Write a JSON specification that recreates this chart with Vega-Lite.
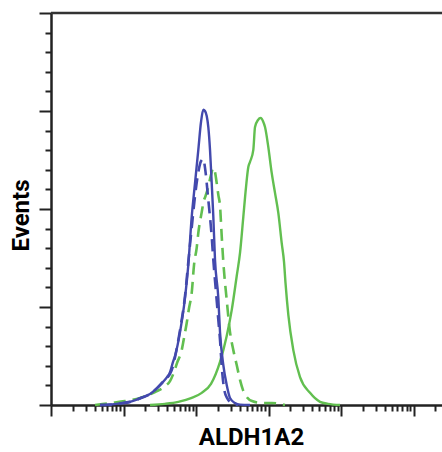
{
  "$schema": "https://vega.github.io/schema/vega-lite/v6.json",
  "autosize": "none",
  "padding": {"left": 51, "top": 13, "right": 0, "bottom": 47},
  "width": 391,
  "height": 392,
  "background": "white",
  "view": {"stroke": null},
  "datasets": {
    "curves": [
      {"s": "GS", "x": 23.2, "y": 0}, {"s": "GS", "x": 37.36, "y": 0.3}, {"s": "GS", "x": 57.0, "y": 0.8}, {"s": "GS", "x": 87.22, "y": 1.8}, {"s": "GS", "x": 119.9, "y": 3.1}, {"s": "GS", "x": 161.0, "y": 5.4}, {"s": "GS", "x": 214.3, "y": 11.0}, {"s": "GS", "x": 265.1, "y": 17.6}, {"s": "GS", "x": 310.8, "y": 24.2}, {"s": "GS", "x": 364.3, "y": 32.9}, {"s": "GS", "x": 404.5, "y": 38.8}, {"s": "GS", "x": 449.3, "y": 48.0}, {"s": "GS", "x": 489.5, "y": 55.6}, {"s": "GS", "x": 526.6, "y": 60.7}, {"s": "GS", "x": 555.7, "y": 62.0}, {"s": "GS", "x": 617.1, "y": 65.1}, {"s": "GS", "x": 651.4, "y": 70.9}, {"s": "GS", "x": 716.5, "y": 72.7}, {"s": "GS", "x": 780.6, "y": 73.2}, {"s": "GS", "x": 839.8, "y": 72.4}, {"s": "GS", "x": 894.8, "y": 70.9}, {"s": "GS", "x": 993.6, "y": 65.8}, {"s": "GS", "x": 1107, "y": 59.2}, {"s": "GS", "x": 1229, "y": 54.1}, {"s": "GS", "x": 1365, "y": 49.0}, {"s": "GS", "x": 1521, "y": 41.3}, {"s": "GS", "x": 1636, "y": 36.5}, {"s": "GS", "x": 1716, "y": 31.1}, {"s": "GS", "x": 1876, "y": 23.0}, {"s": "GS", "x": 2198, "y": 14.0}, {"s": "GS", "x": 2720, "y": 7.1}, {"s": "GS", "x": 3736, "y": 3.1}, {"s": "GS", "x": 5132, "y": 0.8}, {"s": "GS", "x": 6618, "y": 0.3}, {"s": "GS", "x": 9688, "y": 0},

      {"s": "GD", "x": 4.045, "y": 0}, {"s": "GD", "x": 6.514, "y": 0.5}, {"s": "GD", "x": 10.49, "y": 1.0}, {"s": "GD", "x": 16.89, "y": 1.8}, {"s": "GD", "x": 27.2, "y": 3.3}, {"s": "GD", "x": 37.36, "y": 4.8}, {"s": "GD", "x": 43.79, "y": 6.1}, {"s": "GD", "x": 49.73, "y": 8.4}, {"s": "GD", "x": 54.68, "y": 10.7}, {"s": "GD", "x": 63.51, "y": 14.0}, {"s": "GD", "x": 68.32, "y": 17.1}, {"s": "GD", "x": 74.42, "y": 20.9}, {"s": "GD", "x": 80.07, "y": 24.7}, {"s": "GD", "x": 87.22, "y": 28.6}, {"s": "GD", "x": 93.84, "y": 35.7}, {"s": "GD", "x": 102.2, "y": 40.1}, {"s": "GD", "x": 107.6, "y": 43.9}, {"s": "GD", "x": 119.9, "y": 49.2}, {"s": "GD", "x": 126.9, "y": 51.8}, {"s": "GD", "x": 135.2, "y": 53.3}, {"s": "GD", "x": 146.4, "y": 55.4}, {"s": "GD", "x": 161.0, "y": 58.7}, {"s": "GD", "x": 173.3, "y": 60.5}, {"s": "GD", "x": 182.9, "y": 59.4}, {"s": "GD", "x": 193.0, "y": 56.6}, {"s": "GD", "x": 203.1, "y": 53.6}, {"s": "GD", "x": 214.3, "y": 50.8}, {"s": "GD", "x": 226.2, "y": 43.1}, {"s": "GD", "x": 238.0, "y": 36.5}, {"s": "GD", "x": 265.1, "y": 26.8}, {"s": "GD", "x": 294.4, "y": 18.6}, {"s": "GD", "x": 327.0, "y": 14.0}, {"s": "GD", "x": 364.3, "y": 10.2}, {"s": "GD", "x": 404.5, "y": 6.4}, {"s": "GD", "x": 445.0, "y": 3.8}, {"s": "GD", "x": 489.5, "y": 2.3}, {"s": "GD", "x": 592.2, "y": 1.0}, {"s": "GD", "x": 813.4, "y": 0.5}, {"s": "GD", "x": 1118, "y": 0.5}, {"s": "GD", "x": 1689, "y": 0},

      {"s": "BD", "x": 4.742, "y": 0}, {"s": "BD", "x": 6.514, "y": 0.1}, {"s": "BD", "x": 8.95, "y": 0.4}, {"s": "BD", "x": 12.29, "y": 0.8}, {"s": "BD", "x": 18.58, "y": 2.0}, {"s": "BD", "x": 23.2, "y": 2.8}, {"s": "BD", "x": 28.99, "y": 4.3}, {"s": "BD", "x": 35.06, "y": 5.9}, {"s": "BD", "x": 39.81, "y": 6.9}, {"s": "BD", "x": 43.79, "y": 7.9}, {"s": "BD", "x": 48.17, "y": 9.9}, {"s": "BD", "x": 51.32, "y": 12.2}, {"s": "BD", "x": 60.17, "y": 19.1}, {"s": "BD", "x": 70.52, "y": 27.8}, {"s": "BD", "x": 78.3, "y": 36.5}, {"s": "BD", "x": 87.22, "y": 45.2}, {"s": "BD", "x": 96.88, "y": 53.3}, {"s": "BD", "x": 107.6, "y": 59.4}, {"s": "BD", "x": 117.2, "y": 62.2}, {"s": "BD", "x": 126.1, "y": 62.8}, {"s": "BD", "x": 133.1, "y": 60.5}, {"s": "BD", "x": 147.8, "y": 52.3}, {"s": "BD", "x": 164.7, "y": 42.9}, {"s": "BD", "x": 173.3, "y": 37.0}, {"s": "BD", "x": 188.7, "y": 28.8}, {"s": "BD", "x": 203.1, "y": 21.7}, {"s": "BD", "x": 214.3, "y": 16.6}, {"s": "BD", "x": 228.4, "y": 8.9}, {"s": "BD", "x": 243.3, "y": 4.3}, {"s": "BD", "x": 267.7, "y": 1.8}, {"s": "BD", "x": 313.8, "y": 0.5}, {"s": "BD", "x": 379.6, "y": 0},

      {"s": "BS", "x": 4.742, "y": 0}, {"s": "BS", "x": 6.514, "y": 0.1}, {"s": "BS", "x": 8.95, "y": 0.4}, {"s": "BS", "x": 12.29, "y": 0.8}, {"s": "BS", "x": 18.58, "y": 2.0}, {"s": "BS", "x": 23.2, "y": 2.8}, {"s": "BS", "x": 28.99, "y": 4.3}, {"s": "BS", "x": 35.06, "y": 5.9}, {"s": "BS", "x": 39.81, "y": 7.1}, {"s": "BS", "x": 43.79, "y": 8.4}, {"s": "BS", "x": 48.17, "y": 11.0}, {"s": "BS", "x": 51.32, "y": 12.5}, {"s": "BS", "x": 60.17, "y": 18.6}, {"s": "BS", "x": 70.52, "y": 27.3}, {"s": "BS", "x": 78.3, "y": 35.7}, {"s": "BS", "x": 87.22, "y": 48.0}, {"s": "BS", "x": 96.88, "y": 56.6}, {"s": "BS", "x": 107.6, "y": 65.1}, {"s": "BS", "x": 117.2, "y": 72.2}, {"s": "BS", "x": 126.1, "y": 75.3}, {"s": "BS", "x": 133.1, "y": 75.0}, {"s": "BS", "x": 140.5, "y": 73.7}, {"s": "BS", "x": 147.8, "y": 70.9}, {"s": "BS", "x": 156.0, "y": 65.1}, {"s": "BS", "x": 164.7, "y": 56.6}, {"s": "BS", "x": 173.3, "y": 48.0}, {"s": "BS", "x": 182.9, "y": 37.0}, {"s": "BS", "x": 203.1, "y": 27.3}, {"s": "BS", "x": 214.3, "y": 18.6}, {"s": "BS", "x": 238.0, "y": 10.2}, {"s": "BS", "x": 265.1, "y": 5.1}, {"s": "BS", "x": 294.4, "y": 1.8}, {"s": "BS", "x": 345.1, "y": 0.5}, {"s": "BS", "x": 404.5, "y": 0.1}, {"s": "BS", "x": 555.7, "y": 0}
    ]
  },
  "data": {"name": "curves"},
  "encoding": {
    "x": {
      "field": "x", "type": "quantitative",
      "scale": {"type": "log", "domain": [1, 247000], "nice": false, "zero": false},
      "axis": {
        "title": "ALDH1A2",
        "titleFont": "Roboto",
        "titleFontSize": 24, "titleFontWeight": "bold", "titleColor": "#000",
        "titlePadding": 8, "titleX": 200,
        "labels": false, "grid": false,
        "domainColor": "#222", "domainWidth": 2.5,
        "tickColor": "#222", "tickWidth": 2,
        "tickSize": {"condition": {"test": "abs(log(datum.value)/LN10 - round(log(datum.value)/LN10)) < 0.001", "value": 11}, "value": 6},
        "values": [1,2,3,4,5,6,7,8,9,10,20,30,40,50,60,70,80,90,100,200,300,400,500,600,700,800,900,1000,2000,3000,4000,5000,6000,7000,8000,9000,10000,20000,30000,40000,50000,60000,70000,80000,90000,100000,200000]
      }
    },
    "y": {
      "field": "y", "type": "quantitative",
      "scale": {"domain": [0, 100], "nice": false},
      "axis": {
        "title": "Events",
        "titleFont": "Roboto",
        "titleFontSize": 24, "titleFontWeight": "bold", "titleColor": "#000",
        "titlePadding": 5, "titleY": 202,
        "labels": false, "grid": false,
        "domainColor": "#222", "domainWidth": 2.5,
        "tickColor": "#222", "tickWidth": 2,
        "tickSize": {"condition": {"test": "datum.value % 25 === 0", "value": 12}, "value": 6},
        "values": [0,5,10,15,20,25,30,35,40,45,50,55,60,65,70,75,80,85,90,95,100]
      }
    }
  },
  "layer": [
    {
      "transform": [{"filter": "datum.s === 'GS'"}],
      "mark": {"type": "line", "interpolate": "monotone", "color": "#62bf50", "strokeWidth": 2.4}
    },
    {
      "transform": [{"filter": "datum.s === 'GD'"}],
      "mark": {"type": "line", "interpolate": "monotone", "color": "#62bf50", "strokeWidth": 2.6, "strokeDash": [12, 7]}
    },
    {
      "transform": [{"filter": "datum.s === 'BD'"}],
      "mark": {"type": "line", "interpolate": "monotone", "color": "#4349ad", "strokeWidth": 2.6, "strokeDash": [12, 7]}
    },
    {
      "transform": [{"filter": "datum.s === 'BS'"}],
      "mark": {"type": "line", "interpolate": "monotone", "color": "#4349ad", "strokeWidth": 2.4}
    },
    {
      "data": {"values": [{"top": 100}]},
      "mark": {"type": "rule", "color": "#333", "strokeWidth": 2.5},
      "encoding": {"y": {"field": "top", "type": "quantitative"}, "x": null}
    }
  ]
}
